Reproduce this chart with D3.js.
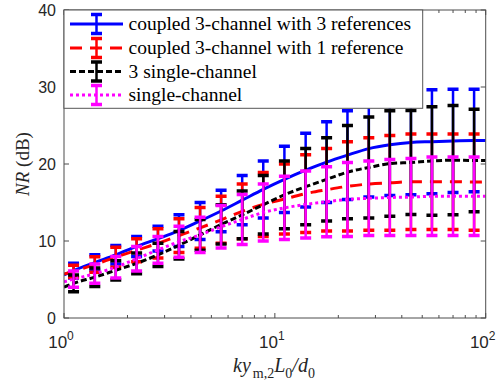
<!DOCTYPE html>
<html>
<head>
<meta charset="utf-8">
<script src="https://cdn.jsdelivr.net/npm/d3@7"></script>
<style>
  html, body { margin: 0; padding: 0; background: #fff; }
  svg { display: block; }
</style>
</head>
<body>
<svg id="chart" width="503" height="392"></svg>
<script>
// ---------------- data ----------------
const xValues = [1.11, 1.40, 1.76, 2.21, 2.79, 3.51, 4.42, 5.56, 7.0, 8.81,
                 11.1, 14.0, 17.6, 22.1, 27.9, 35.1, 44.2, 55.6, 70.0, 88.1];

const seriesNames = [
  "coupled 3-channel with 3 references",
  "coupled 3-channel with 1 reference",
  "3 single-channel",
  "single-channel"
];

const blueMean = [6.15, 7.2, 8.2, 9.3, 10.3, 11.35, 12.6, 13.9, 15.3, 16.7,
                  18.0, 19.2, 20.25, 21.15, 22.0, 22.5, 22.8, 22.9, 23.0, 23.05];
const blueErr  = [0.95, 1.0, 1.2, 1.3, 1.6, 2.05, 2.4, 2.7, 3.2, 3.7,
                  4.3, 4.8, 5.25, 5.75, 6.3, 6.6, 6.8, 6.75, 6.7, 6.65];

const redMean  = [6.05, 6.95, 7.9, 8.8, 9.7, 10.7, 11.7, 12.75, 13.85, 14.75,
                  15.45, 16.15, 16.65, 17.1, 17.4, 17.55, 17.7, 17.7, 17.7, 17.65];
const redErr   = [0.8, 1.0, 1.3, 1.5, 1.9, 2.2, 2.65, 3.05, 3.55, 4.15,
                  4.55, 5.05, 5.35, 5.8, 6.0, 6.15, 6.2, 6.2, 6.2, 6.25];

const blackMean = [4.5, 5.3, 6.2, 7.1, 8.2, 9.45, 10.8, 12.15, 13.4, 14.7,
                   16.0, 17.05, 18.0, 18.95, 19.55, 20.05, 20.2, 20.4, 20.5, 20.45];
const blackErr  = [1.1, 1.2, 1.25, 1.35, 1.5, 1.8, 2.0, 2.55, 3.1, 3.8,
                   4.4, 4.95, 5.4, 6.05, 6.55, 6.85, 6.75, 7.05, 7.1, 6.65];

const magentaMean = [5.05, 5.75, 6.6, 7.7, 8.85, 9.9, 10.8, 11.85, 12.8, 13.7,
                     14.3, 14.75, 15.1, 15.4, 15.55, 15.65, 15.7, 15.8, 15.8, 15.8];
const magentaErr  = [1.05, 1.25, 1.4, 1.6, 1.75, 2.0, 2.3, 2.75, 3.25, 3.7,
                     4.1, 4.35, 4.55, 4.8, 4.85, 4.95, 5.0, 5.1, 5.1, 5.1];

// curve end points (curves run from x = 1 to x = 100)
const curveXStart = 1, curveXEnd = 100;
const curveStart = [5.6, 5.7, 4.0, 4.7];
const curveEnd   = [23.05, 17.7, 20.45, 15.8];

const yTicks = [0, 10, 20, 30, 40];
const xMajorTicks = [1, 10, 100];
const xTickExponents = ["0", "1", "2"];
const xMinorTicks = [2, 3, 4, 5, 6, 7, 8, 9, 20, 30, 40, 50, 60, 70, 80, 90];

// ---------------- styles ----------------
const colors = ["#0000ff", "#ff0000", "#000000", "#ff00ff"];
const dashes = [null, "12,8", "6,3", "3,3"];

const means = [blueMean, redMean, blackMean, magentaMean];
const errs = [blueErr, redErr, blackErr, magentaErr];

const series = seriesNames.map((name, s) => ({
  name,
  color: colors[s],
  dash: dashes[s],
  points: xValues.map((x, i) => ({x, m: means[s][i], e: errs[s][i]})),
  curve: [{x: curveXStart, m: curveStart[s]}]
    .concat(xValues.map((x, i) => ({x, m: means[s][i]})))
    .concat([{x: curveXEnd, m: curveEnd[s]}])
}));

// ---------------- layout ----------------
const svg = d3.select("#chart");
const L = 64, R = 485.7, T = 10, B = 318;
const x = d3.scaleLog().domain([1, 100]).range([L, R]);
const y = d3.scaleLinear().domain([0, 40]).range([B, T]);

const axisColor = "#4d4d4d";
const textColor = "#262626";

svg.append("defs").append("clipPath").attr("id", "plotclip")
  .append("rect").attr("x", L).attr("y", T).attr("width", R - L).attr("height", B - T);

const plot = svg.append("g").attr("clip-path", "url(#plotclip)");

const line = d3.line().x(d => x(d.x)).y(d => y(d.m)).curve(d3.curveMonotoneX);
const capW = 5.5;

series.forEach(s => {
  const g = plot.append("g");
  // curve
  g.append("path").datum(s.curve)
    .attr("d", line)
    .attr("fill", "none")
    .attr("stroke", s.color)
    .attr("stroke-width", 3)
    .attr("stroke-dasharray", s.dash);
  // error bars
  const eb = g.selectAll("g.eb").data(s.points).join("g").attr("class", "eb");
  eb.append("line")
    .attr("x1", d => x(d.x)).attr("x2", d => x(d.x))
    .attr("y1", d => y(d.m + d.e)).attr("y2", d => y(d.m - d.e))
    .attr("stroke", s.color).attr("stroke-width", 2.5);
  eb.append("line")
    .attr("x1", d => x(d.x) - capW).attr("x2", d => x(d.x) + capW)
    .attr("y1", d => y(d.m + d.e)).attr("y2", d => y(d.m + d.e))
    .attr("stroke", s.color).attr("stroke-width", 3.5);
  eb.append("line")
    .attr("x1", d => x(d.x) - capW).attr("x2", d => x(d.x) + capW)
    .attr("y1", d => y(d.m - d.e)).attr("y2", d => y(d.m - d.e))
    .attr("stroke", s.color).attr("stroke-width", 3.5);
});

// ---------------- axes ----------------
const axes = svg.append("g");
axes.append("rect")
  .attr("x", L).attr("y", T).attr("width", R - L).attr("height", B - T)
  .attr("fill", "none").attr("stroke", axisColor).attr("stroke-width", 1);

// y ticks (left & right, inward)
yTicks.forEach(v => {
  axes.append("line").attr("x1", L).attr("x2", L + 5).attr("y1", y(v)).attr("y2", y(v))
    .attr("stroke", axisColor);
  axes.append("line").attr("x1", R).attr("x2", R - 5).attr("y1", y(v)).attr("y2", y(v))
    .attr("stroke", axisColor);
  axes.append("text")
    .attr("x", L - 8).attr("y", y(v)).attr("dy", "0.36em")
    .attr("text-anchor", "end")
    .attr("font-family", "Liberation Sans, Arial, sans-serif")
    .attr("font-size", 16).attr("fill", textColor)
    .text(v);
});

// x ticks (bottom & top)
xMajorTicks.forEach((v, i) => {
  axes.append("line").attr("x1", x(v)).attr("x2", x(v)).attr("y1", B).attr("y2", B - 5)
    .attr("stroke", axisColor);
  axes.append("line").attr("x1", x(v)).attr("x2", x(v)).attr("y1", T).attr("y2", T + 5)
    .attr("stroke", axisColor);
  const t = axes.append("text")
    .attr("x", x(v) - 3).attr("y", 348)
    .attr("text-anchor", "middle")
    .attr("font-family", "Liberation Sans, Arial, sans-serif")
    .attr("font-size", 17).attr("fill", textColor);
  t.append("tspan").text("10");
  t.append("tspan").attr("dy", -8).attr("font-size", 12).text(xTickExponents[i]);
});
xMinorTicks.forEach(v => {
  axes.append("line").attr("x1", x(v)).attr("x2", x(v)).attr("y1", B).attr("y2", B - 3)
    .attr("stroke", axisColor);
  axes.append("line").attr("x1", x(v)).attr("x2", x(v)).attr("y1", T).attr("y2", T + 3)
    .attr("stroke", axisColor);
});

// y label
const yl = svg.append("text")
  .attr("transform", "translate(29,164) rotate(-90)")
  .attr("text-anchor", "middle")
  .attr("font-family", "Liberation Serif, Times New Roman, serif")
  .attr("font-size", 19).attr("fill", textColor);
yl.append("tspan").attr("font-style", "italic").text("NR");
yl.append("tspan").text(" (dB)");

// x label
const xl = svg.append("text")
  .attr("x", 274).attr("y", 372)
  .attr("text-anchor", "middle")
  .attr("font-family", "Liberation Serif, Times New Roman, serif")
  .attr("font-size", 20).attr("fill", textColor);
xl.append("tspan").attr("font-style", "italic").text("ky");
xl.append("tspan").attr("font-size", 14).attr("dy", 6).attr("dx", 2).text("m,2");
xl.append("tspan").attr("font-style", "italic").attr("dy", -6).text("L");
xl.append("tspan").attr("font-size", 14).attr("dy", 6).text("0");
xl.append("tspan").attr("font-style", "italic").attr("dy", -6).text("/d");
xl.append("tspan").attr("font-size", 14).attr("dy", 6).text("0");

// ---------------- legend ----------------
const leg = svg.append("g");
const legX = L, legY = T, legW = 358.7, legH = 98.3;
leg.append("rect").attr("x", legX).attr("y", legY).attr("width", legW).attr("height", legH)
  .attr("fill", "#fff").attr("stroke", "#555").attr("stroke-width", 1);
const rowY = [24, 48, 71.5, 95];
series.forEach((s, i) => {
  const cy = rowY[i];
  leg.append("line").attr("x1", 70).attr("x2", 123).attr("y1", cy).attr("y2", cy)
    .attr("stroke", s.color).attr("stroke-width", 3).attr("stroke-dasharray", s.dash);
  leg.append("line").attr("x1", 96.5).attr("x2", 96.5).attr("y1", cy - 9.5).attr("y2", cy + 9.5)
    .attr("stroke", s.color).attr("stroke-width", 2.5);
  [cy - 9.5, cy + 9.5].forEach(yy => {
    leg.append("line").attr("x1", 96.5 - capW).attr("x2", 96.5 + capW).attr("y1", yy).attr("y2", yy)
      .attr("stroke", s.color).attr("stroke-width", 3.5);
  });
  leg.append("text").attr("x", 128.5).attr("y", cy).attr("dy", "0.32em")
    .attr("font-family", "Liberation Serif, Times New Roman, serif")
    .attr("font-size", 19.5).attr("fill", "#000")
    .text(s.name);
});
</script>
</body>
</html>
